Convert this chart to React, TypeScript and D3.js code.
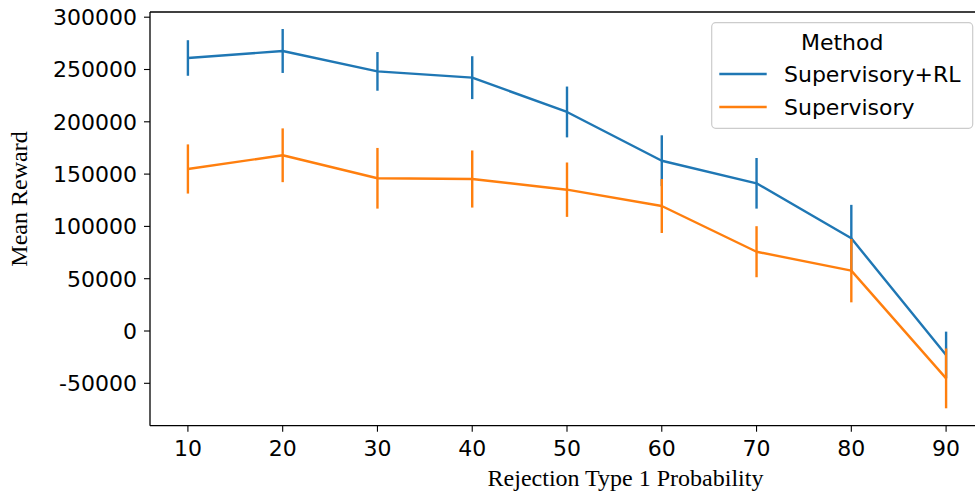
import React from "react";
import * as d3 from "d3";

const probabilities = [10, 20, 30, 40, 50, 60, 70, 80, 90];
const rlMean = [261000, 267700, 248200, 242200, 209400, 162800, 141200, 88600, -22900];
const rlErr = [17000, 21000, 18500, 20500, 24300, 24300, 24200, 32000, 22300];
const supMean = [154900, 168000, 146000, 145300, 135100, 119500, 75800, 57700, -45300];
const supErr = [23500, 25700, 29000, 27300, 26000, 25800, 24400, 30300, 28600];
const yTicks = [-50000, 0, 50000, 100000, 150000, 200000, 250000, 300000];
const seriesNames = ["Supervisory+RL", "Supervisory"];
const colors = ["#1f77b4", "#ff7f0e"];

export default function App() {
  const W = 975, H = 492;
  const left = 150, right = 984, top = 12, bottom = 425.7;
  const x = d3.scaleLinear().domain([6, 94]).range([left, right]);
  const y = d3.scaleLinear().domain([-90530, 304970]).range([bottom, top]);
  const line = d3.line<number>().x((_, i) => x(probabilities[i])).y((d) => y(d));
  const series = [
    { mean: rlMean, err: rlErr },
    { mean: supMean, err: supErr },
  ];
  const tickFont = "DejaVu Sans, sans-serif";
  const serif = "Liberation Serif, Times New Roman, serif";
  return (
    <svg width={W} height={H} style={{ position: "absolute", left: 0, top: 0 }}>
      <rect width={W} height={H} fill="white" />
      {series.map((s, si) => (
        <g key={si}>
          {s.mean.map((m, i) => (
            <line key={i} x1={x(probabilities[i])} x2={x(probabilities[i])}
              y1={y(m - s.err[i])} y2={y(m + s.err[i])}
              stroke={colors[si]} strokeWidth={2.4} />
          ))}
          <path d={line(s.mean) || ""} fill="none" stroke={colors[si]} strokeWidth={2.4} strokeLinejoin="round" />
        </g>
      ))}
      {/* spines */}
      <line x1={left} x2={left} y1={top} y2={bottom} stroke="black" strokeWidth={1.3} />
      <line x1={left} x2={W} y1={bottom} y2={bottom} stroke="black" strokeWidth={1.3} />
      <line x1={left} x2={W} y1={top} y2={top} stroke="black" strokeWidth={1.3} />
      {/* y ticks */}
      {yTicks.map((t) => (
        <g key={t}>
          <line x1={left - 6} x2={left} y1={y(t)} y2={y(t)} stroke="black" strokeWidth={1.1} />
          <text x={left - 13} y={y(t)} dy="0.36em" textAnchor="end" fontFamily={tickFont} fontSize={22} fill="black">
            {t}
          </text>
        </g>
      ))}
      {/* x ticks */}
      {probabilities.map((t) => (
        <g key={t}>
          <line x1={x(t)} x2={x(t)} y1={bottom} y2={bottom + 6} stroke="black" strokeWidth={1.1} />
          <text x={x(t)} y={456} textAnchor="middle" fontFamily={tickFont} fontSize={22} fill="black">
            {t}
          </text>
        </g>
      ))}
      <text x={625.5} y={486} textAnchor="middle" fontFamily={serif} fontSize={24} fill="black">
        Rejection Type 1 Probability
      </text>
      <text transform="translate(27,199) rotate(-90)" textAnchor="middle" fontFamily={serif} fontSize={24} fill="black">
        Mean Reward
      </text>
      {/* legend */}
      <rect x={711.7} y={22.7} width={261} height={105.6} rx={4} fill="white" fillOpacity={0.8} stroke="#cccccc" strokeWidth={1.2} />
      <text x={842.2} y={49.5} textAnchor="middle" fontFamily={tickFont} fontSize={22} fill="black">Method</text>
      {seriesNames.map((n, i) => (
        <g key={n}>
          <line x1={719.3} x2={766.7} y1={74 + i * 33} y2={74 + i * 33} stroke={colors[i]} strokeWidth={2.4} />
          <text x={784} y={82.3 + i * 33} fontFamily={tickFont} fontSize={22} fill="black">{n}</text>
        </g>
      ))}
    </svg>
  );
}
